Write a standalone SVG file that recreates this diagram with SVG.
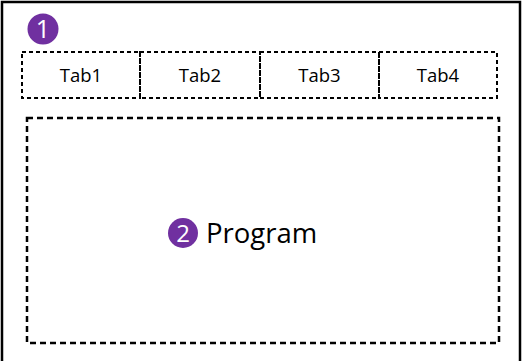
<svg xmlns="http://www.w3.org/2000/svg" width="527" height="361" viewBox="0 0 527 361">
<style>
.tab{fill:none;stroke:#000;stroke-width:2;stroke-dasharray:4 3}
.lbl{font-family:"Open Sans","Noto Sans",sans-serif;font-size:18.5px;fill:#000;text-anchor:middle}
.badge{fill:#7030A0}
.num{font-family:"Open Sans","Noto Sans",sans-serif;fill:#fff;text-anchor:middle}
</style>
<rect width="527" height="361" fill="#fff"/>
<g id="frame"><path d="M2,365 V2 H520 V365" fill="none" stroke="#000" stroke-width="2.5"/></g>
<g id="badge1"><circle class="badge" cx="43" cy="29" r="15.5"/><text class="num" x="43" y="38" font-size="25">1</text></g>
<g id="tab1"><rect class="tab" x="22" y="52" width="118" height="46"/><text class="lbl" x="81" y="82">Tab1</text></g>
<g id="tab2"><rect class="tab" x="140" y="52" width="120" height="46"/><text class="lbl" x="200" y="82">Tab2</text></g>
<g id="tab3"><rect class="tab" x="260" y="52" width="119" height="46"/><text class="lbl" x="319.5" y="82">Tab3</text></g>
<g id="tab4"><rect class="tab" x="379" y="52" width="118" height="46"/><text class="lbl" x="438" y="82">Tab4</text></g>
<g id="program">
<rect x="27" y="118" width="472" height="225" fill="none" stroke="#000" stroke-width="2.5" stroke-dasharray="6 4"/>
<circle class="badge" cx="183" cy="233" r="15"/><text class="num" x="183" y="242" font-size="24">2</text>
<text x="206" y="243" font-family="'Open Sans','Noto Sans',sans-serif" font-size="27.5" fill="#000">Program</text>
</g>
<g id="connectors"></g>
</svg>
